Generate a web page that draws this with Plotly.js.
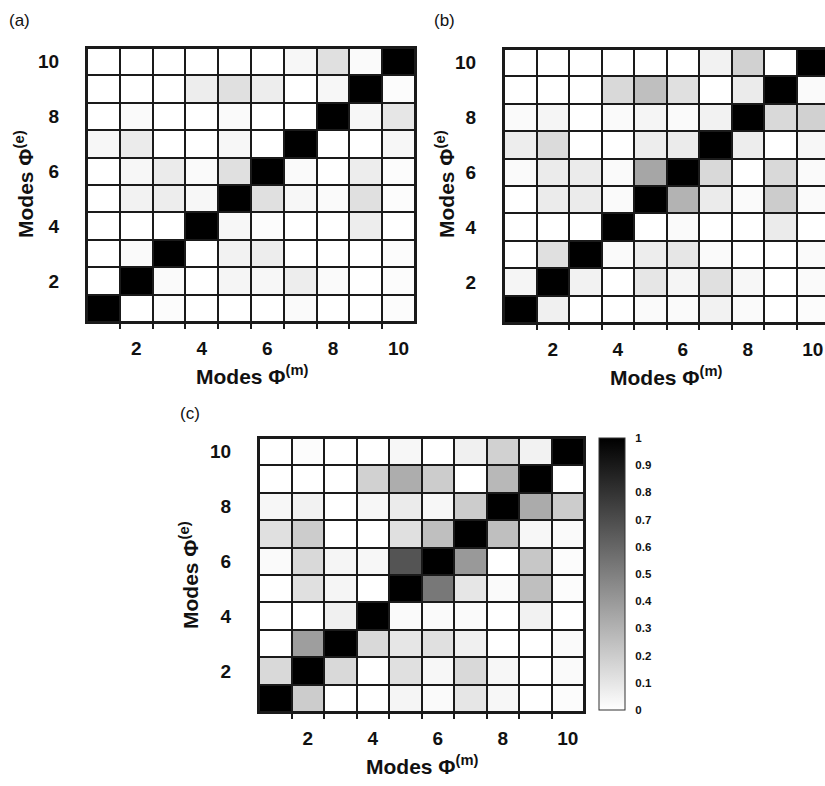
<!DOCTYPE html>
<html>
<head>
<meta charset="utf-8">
<script src="https://cdn.plot.ly/plotly-3.0.1.min.js"></script>
<style>
html,body{margin:0;padding:0;overflow:hidden;background:#fff;}
#chart{width:832px;height:786px;}
</style>
</head>
<body>
<div id="chart"></div>
<script>
// Mode numbers (both axes)
const modes = [1,2,3,4,5,6,7,8,9,10];
const tickValues = [2,4,6,8,10];
const tickLabels = ['2','4','6','8','10'];
const cbTickValues = [0,0.1,0.2,0.3,0.4,0.5,0.6,0.7,0.8,0.9,1];
const cbTickLabels = ['0','0.1','0.2','0.3','0.4','0.5','0.6','0.7','0.8','0.9','1'];

// MAC values, rows = experimental mode 1..10 (bottom to top), columns = model mode 1..10
const macA = [
  [1.00,0.00,0.01,0.00,0.00,0.00,0.02,0.00,0.00,0.01],
  [0.00,1.00,0.02,0.00,0.04,0.03,0.07,0.02,0.00,0.01],
  [0.00,0.02,1.00,0.00,0.05,0.07,0.00,0.00,0.00,0.01],
  [0.00,0.00,0.00,1.00,0.03,0.01,0.00,0.00,0.07,0.00],
  [0.00,0.05,0.07,0.03,1.00,0.12,0.03,0.02,0.12,0.01],
  [0.00,0.03,0.08,0.02,0.12,1.00,0.02,0.00,0.07,0.01],
  [0.03,0.08,0.00,0.00,0.03,0.00,1.00,0.00,0.00,0.03],
  [0.00,0.02,0.00,0.00,0.02,0.00,0.00,1.00,0.03,0.10],
  [0.00,0.00,0.00,0.07,0.12,0.07,0.00,0.03,1.00,0.01],
  [0.00,0.00,0.00,0.00,0.00,0.00,0.03,0.12,0.02,1.00]
];
const macB = [
  [1.00,0.06,0.00,0.00,0.02,0.02,0.05,0.02,0.00,0.01],
  [0.04,1.00,0.05,0.00,0.10,0.04,0.12,0.03,0.00,0.02],
  [0.00,0.12,1.00,0.02,0.07,0.10,0.02,0.00,0.00,0.02],
  [0.00,0.00,0.00,1.00,0.00,0.02,0.00,0.00,0.08,0.00],
  [0.00,0.08,0.08,0.02,1.00,0.30,0.08,0.02,0.20,0.02],
  [0.02,0.08,0.08,0.02,0.35,1.00,0.15,0.00,0.15,0.02],
  [0.07,0.14,0.00,0.00,0.07,0.08,1.00,0.07,0.00,0.03],
  [0.02,0.04,0.00,0.02,0.04,0.02,0.05,1.00,0.15,0.18],
  [0.00,0.00,0.00,0.15,0.25,0.12,0.00,0.08,1.00,0.02],
  [0.00,0.00,0.00,0.00,0.00,0.00,0.05,0.18,0.00,1.00]
];
const macC = [
  [1.00,0.20,0.00,0.00,0.04,0.02,0.10,0.03,0.00,0.01],
  [0.15,1.00,0.15,0.00,0.12,0.03,0.15,0.03,0.00,0.02],
  [0.00,0.38,1.00,0.15,0.10,0.12,0.06,0.00,0.00,0.02],
  [0.00,0.00,0.06,1.00,0.02,0.02,0.02,0.00,0.05,0.00],
  [0.00,0.12,0.04,0.00,1.00,0.53,0.10,0.02,0.25,0.01],
  [0.02,0.15,0.04,0.03,0.67,1.00,0.40,0.00,0.22,0.01],
  [0.12,0.20,0.00,0.00,0.12,0.25,1.00,0.25,0.03,0.02],
  [0.03,0.05,0.00,0.03,0.08,0.03,0.20,1.00,0.33,0.20],
  [0.00,0.00,0.00,0.18,0.32,0.20,0.00,0.28,1.00,0.00],
  [0.00,0.01,0.00,0.00,0.03,0.00,0.06,0.18,0.05,1.00]
];

const W = 832, H = 786;
const px = v => v / W;
const py = v => 1 - v / H;
const LINE = '#1a1a1a';
const gray = [[0,'#ffffff'],[1,'#000000']];

function hm(z, xa, ya, showScale) {
  const t = {
    type: 'heatmap', x: modes, y: modes, z: z,
    xaxis: xa, yaxis: ya,
    zmin: 0, zmax: 1, colorscale: gray,
    xgap: 2, ygap: 2,
    showscale: showScale, hoverinfo: 'x+y+z'
  };
  if (showScale) {
    t.colorbar = {
      thickness: 26, thicknessmode: 'pixels',
      len: 272, lenmode: 'pixels',
      x: px(599), xanchor: 'left', xpad: 0,
      y: py(438), yanchor: 'top', ypad: 0,
      outlinewidth: 1, outlinecolor: '#333',
      tickmode: 'array', tickvals: cbTickValues, ticktext: cbTickLabels,
      ticks: 'outside', ticklen: 8, tickcolor: 'rgba(0,0,0,0)',
      tickfont: {family: 'Liberation Sans, Arial, sans-serif', size: 11.5, color: '#111', weight: 'bold'}
    };
  }
  return t;
}

const tickFont = {family: 'Liberation Sans, Arial, sans-serif', size: 19, color: '#111', weight: 'bold'};

function xax(l, r, anchor) {
  return {
    domain: [px(l), px(r)], anchor: anchor,
    range: [0.5, 10.5], fixedrange: true,
    tickmode: 'array', tickvals: tickValues, ticktext: tickLabels,
    ticks: 'outside', ticklen: 8, tickcolor: 'rgba(0,0,0,0)',
    tickfont: tickFont,
    showline: true, mirror: true, linecolor: LINE, linewidth: 2,
    showgrid: false, zeroline: false,
    minor: {tickmode: 'array', tickvals: [1.5,2.5,3.5,4.5,5.5,6.5,7.5,8.5,9.5],
            ticks: 'outside', ticklen: 5, tickwidth: 2, tickcolor: LINE, showgrid: false}
  };
}
function yax(t, b, anchor) {
  return {
    domain: [py(b), py(t)], anchor: anchor,
    range: [0.5, 10.5], fixedrange: true,
    tickmode: 'array', tickvals: tickValues, ticktext: tickLabels,
    ticks: 'outside', ticklen: 22, tickcolor: 'rgba(0,0,0,0)',
    tickfont: tickFont,
    showline: true, mirror: true, linecolor: LINE, linewidth: 2,
    showgrid: false, zeroline: false
  };
}

const titleFont = {family: 'Liberation Sans, Arial, sans-serif', size: 21, color: '#111'};
const xTitle = '<b>Modes Φ<sup>(m)</sup></b>';
const yTitle = '<b>Modes Φ<sup>(e)</sup></b>';
function ann(text, x, y, angle, font) {
  return {text: text, x: px(x), y: py(y), xref: 'paper', yref: 'paper',
          showarrow: false, textangle: angle, font: font, xanchor: 'center', yanchor: 'middle'};
}
const panelFont = {family: 'Liberation Sans, Arial, sans-serif', size: 17, color: '#111'};

const data = [hm(macA, 'x', 'y', false), hm(macB, 'x2', 'y2', false), hm(macC, 'x3', 'y3', true)];

const layout = {
  width: W, height: H,
  margin: {l: 0, r: 0, t: 0, b: 0},
  paper_bgcolor: '#ffffff',
  plot_bgcolor: LINE,
  showlegend: false,
  xaxis: xax(87, 415, 'y'),
  yaxis: yax(48, 322, 'x'),
  xaxis2: xax(504, 829, 'y2'),
  yaxis2: yax(49, 323, 'x2'),
  xaxis3: xax(259, 584, 'y3'),
  yaxis3: yax(438, 712, 'x3'),
  annotations: [
    ann('(a)', 19, 20, 0, panelFont),
    ann('(b)', 444, 20, 0, panelFont),
    ann('(c)', 190, 413, 0, panelFont),
    ann(xTitle, 253, 375, 0, titleFont),
    ann(yTitle, 24, 184, -90, titleFont),
    ann(xTitle, 666, 376, 0, titleFont),
    ann(yTitle, 445, 184, -90, titleFont),
    ann(xTitle, 422, 765, 0, titleFont),
    ann(yTitle, 189, 575, -90, titleFont)
  ]
};

Plotly.newPlot('chart', data, layout, {displayModeBar: false, staticPlot: true});
</script>
</body>
</html>
